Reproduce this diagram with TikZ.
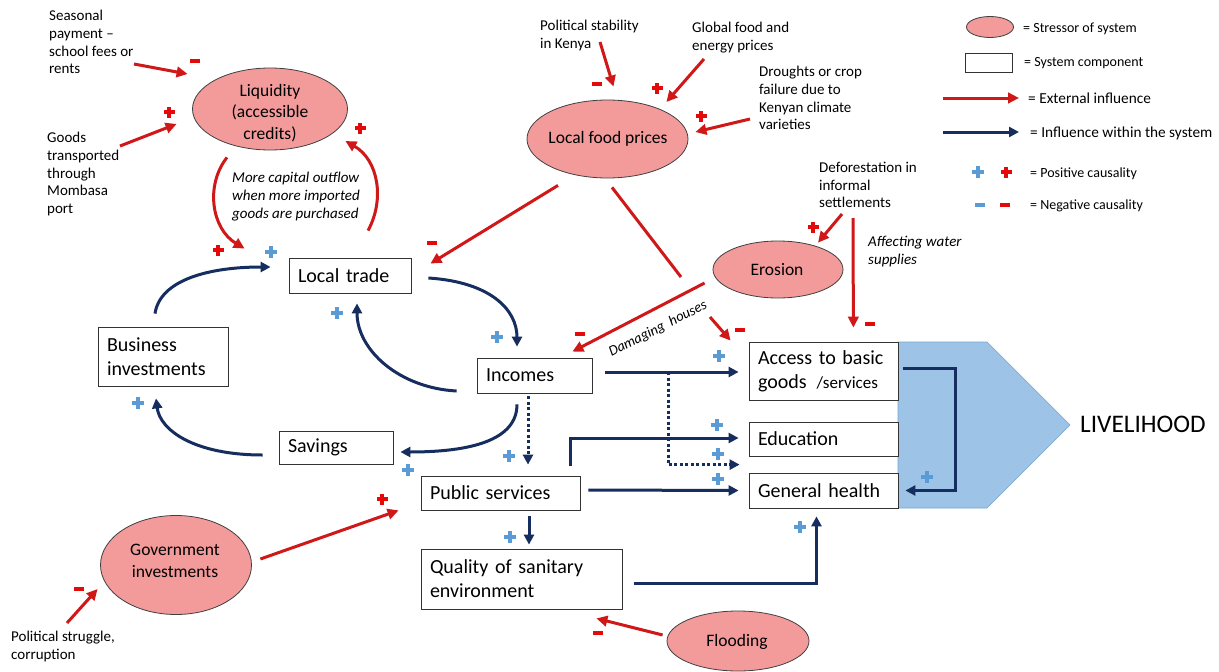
\documentclass[tikz,border=0pt]{standalone}
\usepackage{fontspec}
\setmainfont{Carlito}
\usetikzlibrary{arrows.meta,shapes.geometric,calc}
\definecolor{extred}{RGB}{208,24,24}
\definecolor{sred}{RGB}{228,10,10}
\definecolor{navy}{RGB}{22,45,95}
\definecolor{sblue}{RGB}{91,155,213}
\definecolor{pinkfill}{RGB}{243,155,155}
\definecolor{livblue}{RGB}{157,195,230}
\definecolor{livedge}{RGB}{120,165,210}
\begin{document}
\begin{tikzpicture}[x=1pt,y=-1pt,
  ext/.style={draw=extred,line width=3pt,-{Triangle[length=11pt,width=10.5pt]}},
  extline/.style={draw=extred,line width=3pt},
  int/.style={draw=navy,line width=3pt,-{Triangle[length=10pt,width=10pt]}},
  dotint/.style={int,dash pattern=on 3pt off 2.5pt},
  stress/.style={ellipse,draw=black!75,line width=0.8pt,fill=pinkfill,inner sep=0pt},
  stresstext/.style={font=\fontsize{17.5}{21.5}\selectfont,align=center,inner sep=0pt},
  comp/.style={draw=black!80,line width=0.8pt,fill=white,inner xsep=9pt,inner ysep=0pt,align=left,font=\fontsize{20}{24}\selectfont},
  note/.style={anchor=north west,inner sep=0pt,align=left,font=\fontsize{15}{17.7}\selectfont},
  inote/.style={anchor=north west,inner sep=0pt,align=left,font=\fontsize{15}{17.7}\selectfont\itshape},
  legtext/.style={anchor=base west,inner sep=0pt,font=\fontsize{14}{16}\selectfont},
  legbig/.style={anchor=base west,inner sep=0pt,font=\fontsize{15.3}{18}\selectfont},
  bplus/.pic={\fill[sblue] (-6,-2.3) rectangle (6,2.3); \fill[sblue] (-2.3,-6) rectangle (2.3,6);},
  rplus/.pic={\fill[sred] (-5.5,-2) rectangle (5.5,2); \fill[sred] (-2,-5.5) rectangle (2,5.5);},
  rminus/.pic={\fill[sred] (-5,-1.8) rectangle (5,1.8);},
  bminus/.pic={\fill[sblue] (-5,-1.8) rectangle (5,1.8);}
]
\useasboundingbox (0,0) rectangle (1219,672);
\fill[white] (0,0) rectangle (1219,672);

% livelihood arrow shape
\path[fill=livblue,draw=livedge,line width=0.6pt] (898,342) -- (987,342) -- (1070,425) -- (987,508) -- (898,508) -- cycle;
\node[anchor=base west,inner sep=0pt,font=\fontsize{25.3}{28}\selectfont] (liv) at (1080,432) {LIVELIHOOD};

% stressors
\node[stress,minimum width=155pt,minimum height=82pt] (liq) at (270,109) {};
\node[stresstext] (liqt) at (270,113) {Liquidity\\(accessible\\credits)};
\node[stress,minimum width=161pt,minimum height=78pt] (food) at (607.5,139) {};
\node[stresstext] (foodt) at (608,139) {Local food prices};
\node[stress,minimum width=130pt,minimum height=57pt] (ero) at (778,269.5) {};
\node[stresstext] (erot) at (777,270) {Erosion};
\node[stress,minimum width=151pt,minimum height=99pt] (gov) at (176,565) {};
\node[stresstext] (govt) at (175,561) {Government\\investments};
\node[stress,minimum width=142pt,minimum height=60pt] (flood) at (738,641) {};
\node[stresstext] (floodt) at (737,642) {Flooding};

% system components
\node[comp,minimum width=122pt,minimum height=35pt,text width=104pt] (trade) at (350,275.5) {Local trade};
\node[comp,minimum width=130pt,minimum height=59pt,text width=112pt] (business) at (163,356.5) {Business\\investments};
\node[comp,minimum width=114pt,minimum height=33pt,text width=96pt] (savings) at (336,447.5) {Savings};
\node[comp,minimum width=115pt,minimum height=35pt,text width=97pt] (incomes) at (534.5,375.5) {Incomes};
\node[comp,minimum width=149pt,minimum height=58pt,text width=131pt] (access) at (823.5,371) {Access to basic\\goods\ \,{\fontsize{17}{24}\selectfont /services}};
\node[comp,minimum width=149pt,minimum height=34pt,text width=131pt] (edu) at (823.5,439) {Education};
\node[comp,minimum width=149pt,minimum height=35pt,text width=131pt] (health) at (823.5,490.5) {General health};
\node[comp,minimum width=159pt,minimum height=34pt,text width=141pt] (public) at (500.5,493) {Public services};
\node[comp,minimum width=201pt,minimum height=60pt,text width=183pt] (quality) at (521.5,579) {Quality of sanitary\\environment};

% external texts
\node[note] (seas) at (49,10) {Seasonal\\payment –\\school fees or\\rents};
\node[note] (goods) at (47,132) {Goods\\transported\\through\\Mombasa\\port};
\node[inote] (capital) at (232,172) {More capital outflow\\when more imported\\goods are purchased};
\node[note] (polstab) at (540,20) {Political stability\\in Kenya};
\node[note] (global) at (692,22) {Global food and\\energy prices};
\node[note] (drought) at (759,66) {Droughts or crop\\failure due to\\Kenyan climate\\varieties};
\node[note] (defo) at (819,162) {Deforestation in\\informal\\settlements};
\node[inote] (water) at (868,236) {Affecting water\\supplies};
\node[note] (polstr) at (11,631) {Political struggle,\\corruption};
\node[inner sep=0pt,rotate=27,font=\fontsize{14.5}{17}\selectfont\itshape] (damage) at (658,329) {Damaging\ \ houses};

% free ends
\coordinate (c-seas) at (134,64);
\coordinate (c-goods) at (120,146);
\coordinate (c-pol) at (600,42);
\coordinate (c-glob) at (704,59);
\coordinate (c-drought) at (750,119);
\coordinate (c-break) at (681,277);
\coordinate (c-dmg) at (710,317);
\coordinate (c-defo1) at (842,214);
\coordinate (c-defo2) at (853,218);
\coordinate (c-polstr) at (67,623);
\coordinate (c-split) at (668,372);

% external influences
\draw[ext] (c-seas) -- ([shift={(-4.5,-35)}]liq.west);
\draw[ext] (c-goods) -- ([shift={(-15.5,15)}]liq.west);
\draw[ext] ([shift={(-43,7)}]liq.south) .. controls +(-22,28) and +(-33,-20) .. ([shift={(-44,-9)}]trade.north west);
\draw[ext] ([shift={(18,-27)}]trade.north) .. controls +(17,-31) and +(33,19) .. ([shift={(-2.5,32)}]liq.east);
\draw[ext] (c-pol) -- ([shift={(6,-13)}]food.north);
\draw[ext] (c-glob) -- ([shift={(-22,-37)}]food.east);
\draw[ext] (c-drought) -- ([shift={(7,-7)}]food.east);
\draw[ext] ([shift={(-49.5,7)}]food.south) -- ([shift={(19,6)}]trade.north east);
\draw[extline] ([shift={(4.5,9)}]food.south) -- (c-break);
\draw[ext] ([shift={(-8,13.5)}]ero.west) -- ([shift={(-20,-6)}]incomes.north east);
\draw[ext] (c-dmg) -- ([shift={(-18,-1)}]access.north west);
\draw[ext] (c-defo1) -- ([shift={(40,2)}]ero.north);
\draw[ext] (c-defo2) -- ([shift={(-45,-14)}]access.north east);
\draw[ext] ([shift={(8.5,-6)}]gov.east) -- ([shift={(-22,0)}]public.south west);
\draw[ext] (c-polstr) -- ([shift={(-2.5,24)}]gov.west);
\draw[ext] ([shift={(-4,-6)}]flood.west) -- ([shift={(-26,9)}]quality.south east);

% influences within the system
\draw[int] ([shift={(-8,-13)}]business.north) .. controls +(5,-34) and +(-61,0) .. ([shift={(-18,-8.5)}]trade.west);
\draw[int] ([shift={(-20,15.5)}]incomes.west) .. controls +(-57,-3) and +(0,47) .. ([shift={(7,10)}]trade.south);
\draw[int] ([shift={(17,2.5)}]trade.east) .. controls +(62,4) and +(0,-37) .. ([shift={(-17.5,-11)}]incomes.north);
\draw[int] ([shift={(-16,7.5)}]savings.west) .. controls +(-68,0) and +(4,32) .. ([shift={(-7,12)}]business.south);
\draw[int] ([shift={(-17.5,11)}]incomes.south) .. controls +(0,36) and +(70,0) .. ([shift={(7,4.5)}]savings.east);
\draw[dotint] ([shift={(-6.5,3)}]incomes.south) -- ([shift={(27.5,-11)}]public.north);
\draw[int] ([shift={(13,-3.5)}]incomes.east) -- ([shift={(-10,1)}]access.west);
\draw[dotint] (c-split) |- ([shift={(-9,-8)}]health.north west);
\draw[int] ([shift={(69.5,-10)}]public.north) |- ([shift={(-10,-1)}]edu.west);
\draw[int] ([shift={(8,-3)}]public.east) -- ([shift={(-10,0)}]health.west);
\draw[int] ([shift={(28.5,6)}]public.south) -- ([shift={(28.5,-4)}]public.south |- quality.north);
\draw[int] ([shift={(12,4)}]quality.east) -| ([shift={(-7,8)}]health.south);
\draw[int] ([shift={(5,-3)}]access.east) -- ++(52,0) |- ([shift={(7,0)}]health.east);

% signs
\pic at (195,61) {rminus};
\pic at (169,112) {rplus};
\pic at (360,128) {rplus};
\pic at (218,250) {rplus};
\pic at (597,84) {rminus};
\pic at (657,88) {rplus};
\pic at (701,116) {rplus};
\pic at (432,243) {rminus};
\pic at (813,227) {rplus};
\pic at (580,334) {rminus};
\pic at (740,330) {rminus};
\pic at (870,324) {rminus};
\pic at (382,499) {rplus};
\pic at (79,589) {rminus};
\pic at (598,633) {rminus};
\pic at (271,252) {bplus};
\pic at (337,313) {bplus};
\pic at (138,403) {bplus};
\pic at (497,337) {bplus};
\pic at (408,470) {bplus};
\pic at (509,456) {bplus};
\pic at (719,356) {bplus};
\pic at (717,425) {bplus};
\pic at (718,454) {bplus};
\pic at (718,479) {bplus};
\pic at (510,537) {bplus};
\pic at (800,527) {bplus};
\pic at (927,477) {bplus};

% legend
\node[stress,minimum width=47pt,minimum height=21pt] (lgell) at (990,27) {};
\node[legtext] (lgt1) at (1023,32) {= Stressor of system};
\node[draw=black!80,line width=0.8pt,minimum width=47pt,minimum height=19pt,inner sep=0pt] (lgrect) at (988.5,62.5) {};
\node[legtext] (lgt2) at (1024,66) {= System component};
\coordinate (lgr1) at (943,98);
\coordinate (lgr2) at (1019,98);
\draw[ext] (lgr1) -- (lgr2);
\node[legbig] (lgt3) at (1028,103) {= External influence};
\coordinate (lgb1) at (943,132);
\coordinate (lgb2) at (1019,132);
\draw[int] (lgb1) -- (lgb2);
\node[legbig] (lgt4) at (1030,137) {= Influence within the system};
\pic at (978,172) {bplus};
\pic at (1006,172) {rplus};
\node[legtext] (lgt5) at (1030,177) {= Positive causality};
\pic at (980,205) {bminus};
\pic at (1005,205) {rminus};
\node[legtext] (lgt6) at (1030,209) {= Negative causality};
\end{tikzpicture}
\end{document}
